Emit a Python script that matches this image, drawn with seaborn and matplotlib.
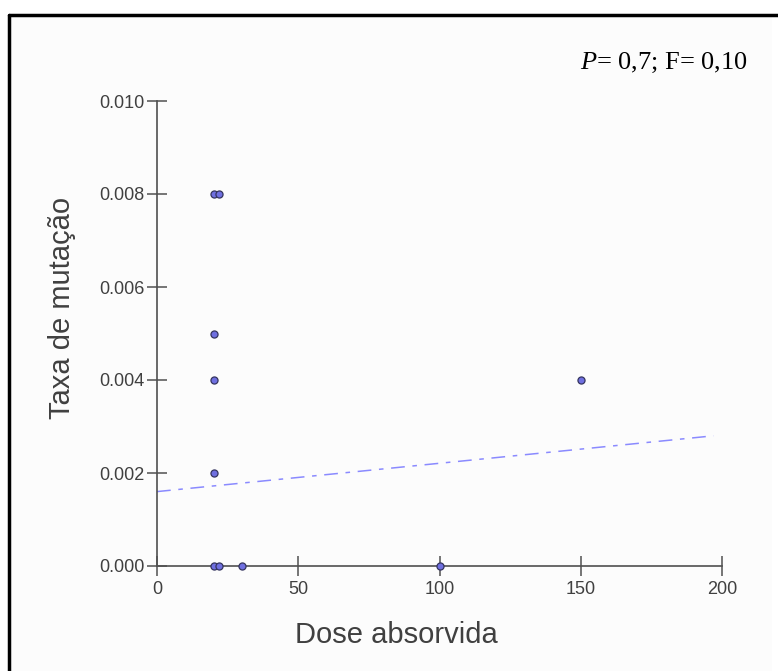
import matplotlib
matplotlib.use("agg")
import matplotlib.pyplot as plt
from matplotlib.lines import Line2D
from matplotlib.patches import Rectangle
import seaborn as sns
import pandas as pd

# dados
dose = [20, 22, 20, 20, 20, 20, 22, 30, 100, 150]
taxa = [0.008, 0.008, 0.005, 0.004, 0.002, 0.0, 0.0, 0.0, 0.0, 0.004]
reta_x = [0, 197]
reta_y = [0.0016, 0.0028]
xticks = [0, 50, 100, 150, 200]
yticks = [0.000, 0.002, 0.004, 0.006, 0.008, 0.010]

sns.set_theme(style="white")
plt.rcParams['font.family'] = ['Liberation Sans', 'DejaVu Sans']
plt.rcParams['mathtext.fontset'] = 'custom'
plt.rcParams['mathtext.it'] = 'Liberation Serif:italic'
plt.rcParams['mathtext.rm'] = 'Liberation Serif'

df = pd.DataFrame({'dose': dose, 'taxa': taxa})
df_reta = pd.DataFrame({'x': reta_x, 'y': reta_y})

fig = plt.figure(figsize=(7.78, 6.71), dpi=100, facecolor='white')
W, H = 778, 671
fig.add_artist(Rectangle((10 / W, 0), 762 / W, 1 - 16 / H, transform=fig.transFigure,
                         facecolor='#fcfcfc', edgecolor='none', zorder=-5))
ax = fig.add_axes([157 / W, 1 - 566 / H, 565 / W, 465 / H])
ax.set_facecolor('none')

sns.lineplot(data=df_reta, x='x', y='y', ax=ax, color='#8a8aff', linewidth=1.1,
             dashes=False, zorder=2).lines[0].set_dashes([9, 5, 3, 5])
sns.scatterplot(data=df, x='dose', y='taxa', ax=ax, s=26, color='#6f6fe0',
                edgecolor='#34345e', linewidth=0.9, zorder=3, clip_on=False)

ax.set_xlim(0, 200)
ax.set_ylim(0, 0.010)
ax.set_xticks(xticks)
ax.set_yticks(yticks)
ax.set_yticklabels(['%.3f' % v for v in yticks])
ax.tick_params(bottom=True, left=True, direction='inout', length=14, width=1.1,
               color='#505050', labelsize=13, labelcolor='#404040')
ax.tick_params(axis='y', pad=2)
ax.tick_params(axis='x', pad=4)
for s in ['top', 'right']:
    ax.spines[s].set_visible(False)
for s in ['left', 'bottom']:
    ax.spines[s].set_color('#505050')
    ax.spines[s].set_linewidth(1.2)

ax.set_xlabel('Dose absorvida', fontsize=21, color='#404040')
ax.set_ylabel('Taxa de mutação', fontsize=21, color='#404040')
ax.xaxis.set_label_coords(0.423, -0.118)
ax.yaxis.set_label_coords(-0.143, 0.555)

fig.text(748 / W, 1 - 69 / H, r'$\mathit{P}$= 0,7; F= 0,10', ha='right', va='baseline',
         fontsize=19, family='Liberation Serif', color='black')

# moldura preta (topo e esquerda)
fig.add_artist(Line2D([9 / W, 1], [1 - 15 / H, 1 - 15 / H], color='black', linewidth=2.5,
                      transform=fig.transFigure))
fig.add_artist(Line2D([9 / W, 9 / W], [0, 1 - 15 / H], color='black', linewidth=2.5,
                      transform=fig.transFigure))

plt.savefig('out.png', dpi=100, facecolor=fig.get_facecolor())
plt.close()
